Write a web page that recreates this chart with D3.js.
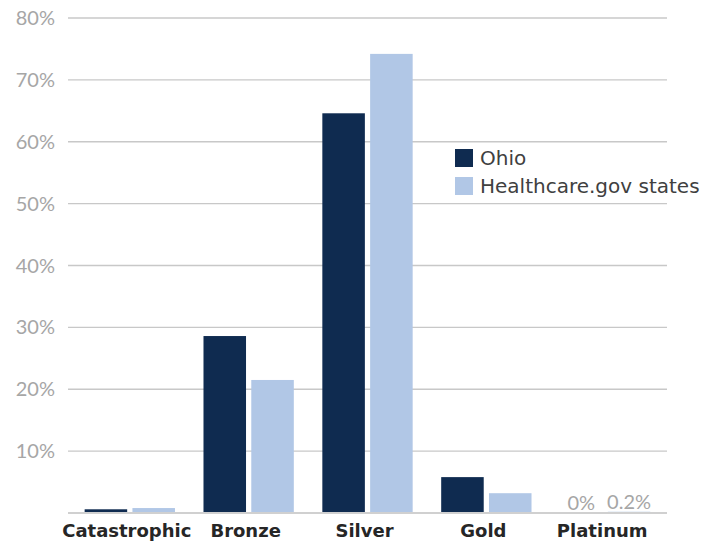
<!DOCTYPE html>
<html lang="en">
<head>
	<meta charset="UTF-8">
	<title>metal tiers</title>
	<script src="https://cdn.jsdelivr.net/npm/d3@7/dist/d3.min.js"></script>
	<style>
		body { margin: 0; background: #fff; }
	</style>
</head>
<body>
	<div id="chart"></div>
	<script type="text/javascript">
	let categories = ['Catastrophic', 'Bronze', 'Silver', 'Gold', 'Platinum'];
	let seriesNames = ['Ohio', 'Healthcare.gov states'];
	let ohio = [0.6, 28.6, 64.6, 5.8, 0];
	let healthcare = [0.8, 21.5, 74.2, 3.2, 0.2];
	let tickValues = [10, 20, 30, 40, 50, 60, 70, 80];
	// labels drawn above the tiny platinum bars
	let platinumLabels = ['0%', '0.2%'];

	let colors = ['#0f2b50', '#b1c7e6'];
	let width = 724, height = 544;
	let padding = { top: 18, right: 57, bottom: 31, left: 68 };

	let svg = d3.select('#chart')
		.append('svg')
		.attr('width', width)
		.attr('height', height)
		.style('font-family', 'Lato, "Open Sans", sans-serif');

	let x = d3.scaleBand()
		.domain(categories)
		.range([padding.left, width - padding.right])
		.paddingInner(0.24)
		.paddingOuter(0.14);

	let x1 = d3.scaleBand()
		.domain([0, 1])
		.range([0, x.bandwidth()])
		.paddingInner(0.11);

	let y = d3.scaleLinear()
		.domain([0, 80])
		.range([height - padding.bottom, padding.top]);

	// gridlines
	svg.append('g')
		.selectAll('line')
		.data(tickValues)
		.enter()
		.append('line')
		.attr('x1', padding.left)
		.attr('x2', width - padding.right)
		.attr('y1', d => y(d))
		.attr('y2', d => y(d))
		.attr('stroke', '#c8c8c8')
		.attr('stroke-width', 1.3);

	svg.append('g')
		.selectAll('text')
		.data(tickValues)
		.enter()
		.append('text')
		.attr('x', 55)
		.attr('y', d => y(d))
		.attr('dy', '0.35em')
		.attr('text-anchor', 'end')
		.attr('fill', '#a6a6a6')
		.attr('font-size', '20px')
		.text(d => d + '%');

	let rows = categories.map((c, i) => ({ cat: c, vals: [ohio[i], healthcare[i]] }));

	let groups = svg.append('g')
		.selectAll('g')
		.data(rows)
		.enter()
		.append('g')
		.attr('transform', d => 'translate(' + x(d.cat) + ',0)');

	groups.selectAll('rect')
		.data(d => d.vals)
		.enter()
		.append('rect')
		.attr('x', (d, i) => x1(i))
		.attr('y', d => y(d))
		.attr('width', x1.bandwidth())
		.attr('height', d => y(0) - y(d))
		.attr('fill', (d, i) => colors[i]);

	// baseline
	svg.append('line')
		.attr('x1', padding.left)
		.attr('x2', width - padding.right)
		.attr('y1', y(0))
		.attr('y2', y(0))
		.attr('stroke', '#d0d0d0')
		.attr('stroke-width', 2);

	// platinum value labels
	svg.append('g')
		.selectAll('text')
		.data(platinumLabels)
		.enter()
		.append('text')
		.attr('x', (d, i) => x('Platinum') + x1(i) + x1.bandwidth() / 2)
		.attr('y', (d, i) => y(i === 0 ? ohio[4] : healthcare[4]) - 3)
		.attr('text-anchor', 'middle')
		.attr('fill', '#a6a6a6')
		.attr('font-size', '20px')
		.text(d => d);

	// category labels
	svg.append('g')
		.selectAll('text')
		.data(categories)
		.enter()
		.append('text')
		.attr('x', d => x(d) + x.bandwidth() / 2 - 3)
		.attr('y', 537)
		.attr('text-anchor', 'middle')
		.attr('fill', '#262626')
		.attr('font-size', '18px')
		.attr('font-weight', 'bold')
		.style('font-family', '"DejaVu Sans", sans-serif')
		.text(d => d);

	// legend
	let legend = svg.append('g')
		.attr('transform', 'translate(455,149)');

	let items = legend.selectAll('g')
		.data(seriesNames)
		.enter()
		.append('g')
		.attr('transform', (d, i) => 'translate(0,' + i * 28 + ')');

	items.append('rect')
		.attr('width', 18)
		.attr('height', 18)
		.attr('fill', (d, i) => colors[i]);

	items.append('text')
		.attr('x', 25)
		.attr('y', 9)
		.attr('dy', '0.35em')
		.attr('fill', '#404040')
		.attr('font-size', '20px')
		.style('font-family', '"DejaVu Sans", sans-serif')
		.text(d => d);
	</script>
</body>
</html>
